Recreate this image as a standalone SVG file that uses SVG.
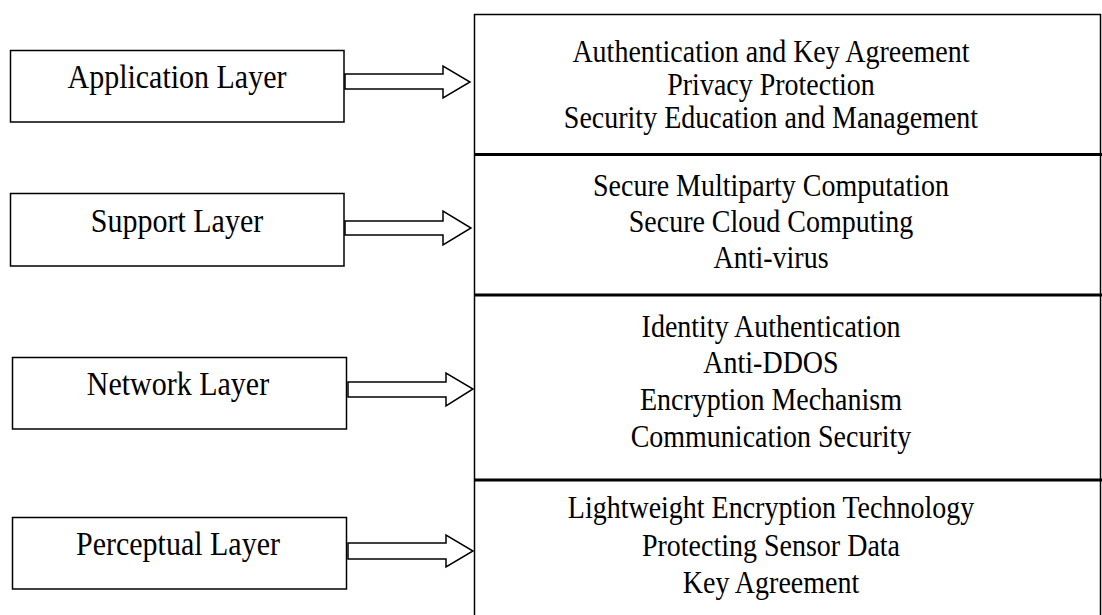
<svg xmlns="http://www.w3.org/2000/svg" width="1102" height="615" viewBox="0 0 1102 615">
<style>
.box{fill:#fff;stroke:#000;stroke-width:1.5}
.div{stroke:#000;stroke-width:3}
.arr{fill:#fff;stroke:#000;stroke-width:1.5;stroke-linejoin:miter}
.lbl{font-family:"Liberation Serif","Times New Roman",serif;font-size:30px;fill:#000;text-anchor:middle}
.itm{font-family:"Liberation Serif","Times New Roman",serif;font-size:28px;fill:#000;text-anchor:middle}
</style>
<rect width="1102" height="615" fill="#fff"/>
<g id="measures">
<rect class="box" x="474.5" y="14.5" width="626" height="610"/>
<line class="div" x1="474" y1="154.5" x2="1102" y2="154.5"/>
<line class="div" x1="474" y1="295" x2="1102" y2="295"/>
<line class="div" x1="474" y1="480" x2="1102" y2="480"/>
<g transform="scale(1,1.1)">
<g id="app-measures">
<text class="itm" x="771" y="56.36">Authentication and Key Agreement</text>
<text class="itm" x="771" y="86.36">Privacy Protection</text>
<text class="itm" x="771" y="116.36">Security Education and Management</text>
</g>
<g id="sup-measures">
<text class="itm" x="771" y="178.18">Secure Multiparty Computation</text>
<text class="itm" x="771" y="210.91">Secure Cloud Computing</text>
<text class="itm" x="771" y="243.64">Anti-virus</text>
</g>
<g id="net-measures">
<text class="itm" x="771" y="306.36">Identity Authentication</text>
<text class="itm" x="771" y="339.09">Anti-DDOS</text>
<text class="itm" x="771" y="372.73">Encryption Mechanism</text>
<text class="itm" x="771" y="406.36">Communication Security</text>
</g>
<g id="per-measures">
<text class="itm" x="771" y="470.91">Lightweight Encryption Technology</text>
<text class="itm" x="771" y="505.45">Protecting Sensor Data</text>
<text class="itm" x="771" y="539.09">Key Agreement</text>
</g>
</g>
</g>
<g id="application-layer">
<rect class="box" x="10.5" y="50.5" width="333.5" height="71.5"/>
<text class="lbl" x="177" y="80" transform="scale(1,1.1)">Application Layer</text>
</g>
<g id="support-layer">
<rect class="box" x="10.5" y="193.5" width="333.5" height="72.5"/>
<text class="lbl" x="177" y="210.91" transform="scale(1,1.1)">Support Layer</text>
</g>
<g id="network-layer">
<rect class="box" x="12.5" y="357.5" width="334" height="71.5"/>
<text class="lbl" x="178" y="359.09" transform="scale(1,1.1)">Network Layer</text>
</g>
<g id="perceptual-layer">
<rect class="box" x="12.5" y="517.5" width="334" height="71.5"/>
<text class="lbl" x="178" y="504.55" transform="scale(1,1.1)">Perceptual Layer</text>
</g>
<g id="connectors">
<polygon class="arr" points="345,74 443,74 443,66 470,82 443,98 443,89 345,89"/>
<polygon class="arr" points="345,221 443,221 443,211 471,228 443,245 443,235 345,235"/>
<polygon class="arr" points="348,382 446,382 446,373 473,389 446,406 446,397 348,397"/>
<polygon class="arr" points="348,543 446,543 446,535 473,551 446,567 446,559 348,559"/>
</g>
</svg>
